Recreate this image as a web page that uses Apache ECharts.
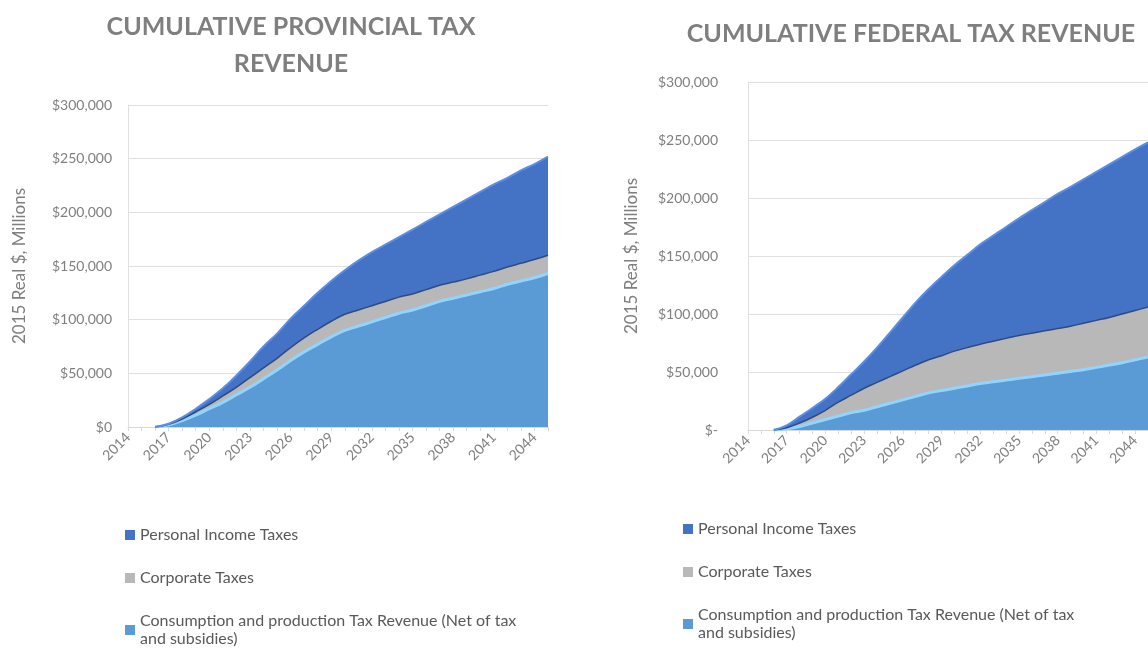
<!DOCTYPE html>
<html>
<head>
<meta charset="utf-8">
<script src="https://cdn.jsdelivr.net/npm/echarts@6/dist/echarts.min.js"></script>
<style>
  html, body { margin: 0; padding: 0; background: #fff; }
  #main { width: 1148px; height: 648px; overflow: hidden; }
</style>
</head>
<body>
<div id="main"></div>
<script>
// years on both x axes
const years = ['2014', '2015', '2016', '2017', '2018', '2019', '2020', '2021',
  '2022', '2023', '2024', '2025', '2026', '2027', '2028', '2029', '2030', '2031',
  '2032', '2033', '2034', '2035', '2036', '2037', '2038', '2039', '2040', '2041',
  '2042', '2043', '2044', '2045'];

// provincial, cumulative, 2015 real $ millions (no data before 2016)
const provConsumption = [null, null, 0, 2000, 6000, 11000, 17000, 23000, 30000, 37000, 45000,
  53000, 62000, 70000, 77000, 84000, 90000, 94000, 98000, 102000, 106000, 109000,
  113000, 117000, 120000, 123000, 126000, 129000, 133000, 136000, 139000, 143000];
const provCorporate = [null, null, 0, 500, 1500, 3000, 4000, 6000, 7000, 9000, 10000, 11000,
  12000, 13000, 14000, 14500, 15000, 15000, 15000, 15000, 15000, 15000, 15000, 15000,
  15000, 15000, 15500, 16000, 16000, 16500, 17000, 17000];
const provPersonal = [null, null, 0, 500, 1500, 3000, 5000, 7000, 11000, 15000, 20000, 23000,
  27000, 30000, 34000, 37500, 41000, 46000, 50000, 53000, 56000, 60000, 63000, 66000,
  70000, 74000, 77500, 81000, 83000, 86500, 89000, 92000];

// federal, cumulative, 2015 real $ millions (no data before 2016)
const fedConsumption = [null, null, 0, 1000, 3000, 6000, 9000, 12000, 15000, 17000, 20000,
  23000, 26000, 29000, 32000, 34000, 36000, 38000, 40000, 41500, 43000, 44500, 46000,
  47500, 49000, 50500, 52000, 54000, 56000, 58000, 60500, 63000];
const fedCorporate = [null, null, 0, 1000, 3000, 5000, 8000, 12000, 15000, 19000, 21000, 23000,
  25000, 27000, 28500, 30000, 32000, 33000, 34000, 35000, 36000, 37000, 37500, 38000,
  38500, 39000, 40000, 40500, 41000, 42000, 42500, 43000];
const fedPersonal = [null, null, 0, 2000, 5500, 8000, 10000, 13000, 18000, 23000, 30000, 38000,
  46000, 54000, 61000, 68000, 74000, 80000, 86000, 91000, 96000, 101000, 106000, 111000,
  116000, 120000, 124000, 128000, 132000, 135500, 139000, 142000];

const yMax = 300000;
const yStep = 50000;

const seriesNames = ['Personal Income Taxes', 'Corporate Taxes',
  'Consumption and production Tax Revenue (Net of tax and subsidies)'];

const FONT = 'Lato, "Open Sans", sans-serif';
const gray = '#7f7f7f';
const lineGray = '#e0e0e0';

const chartDom = document.getElementById('main');
const myChart = echarts.init(chartDom);

function xAxisFor(gridIndex) {
  return {
    type: 'category',
    gridIndex: gridIndex,
    data: years,
    boundaryGap: false,
    axisLine: { lineStyle: { color: '#d9d9d9' } },
    axisTick: { show: true, interval: 0, length: 4, lineStyle: { color: '#d9d9d9' } },
    axisLabel: { interval: 2, rotate: 45, color: gray, fontSize: 14, fontFamily: FONT, margin: 8 }
  };
}

function yAxisFor(gridIndex, zeroLabel, nameGap, labelMargin) {
  return {
    type: 'value',
    gridIndex: gridIndex,
    min: 0,
    max: yMax,
    interval: yStep,
    name: '2015 Real $, Millions',
    nameLocation: 'middle',
    nameGap: nameGap,
    nameTextStyle: { color: gray, fontSize: 17, fontFamily: FONT },
    axisLine: { show: true, lineStyle: { color: lineGray } },
    axisTick: { show: false },
    splitLine: { lineStyle: { color: lineGray } },
    axisLabel: {
      color: gray, fontSize: 14, fontFamily: FONT, margin: labelMargin,
      formatter: v => v === 0 ? zeroLabel : '$' + v.toLocaleString('en-US')
    }
  };
}

function areaSeries(name, stack, idx, data, fill, edge, edgeWidth) {
  return {
    name: name,
    type: 'line',
    stack: stack,
    xAxisIndex: idx,
    yAxisIndex: idx,
    data: data,
    smooth: 0.4,
    showSymbol: false,
    symbol: 'none',
    itemStyle: { color: fill },
    lineStyle: { color: edge, width: edgeWidth },
    areaStyle: { color: fill, opacity: 1 },
    emphasis: { disabled: true }
  };
}

function legendFor(left, top) {
  return {
    orient: 'vertical',
    left: left,
    top: top,
    height: 140,
    padding: 0,
    data: seriesNames,
    icon: 'rect',
    itemWidth: 10,
    itemHeight: 10,
    itemGap: 25,
    textStyle: { color: '#595959', fontSize: 16, fontFamily: FONT, lineHeight: 18 },
    formatter: name => name === seriesNames[2]
      ? 'Consumption and production Tax Revenue (Net of tax\nand subsidies)' : name
  };
}

var option = {
  animation: false,
  backgroundColor: '#ffffff',
  title: [
    {
      text: 'CUMULATIVE PROVINCIAL TAX\nREVENUE',
      left: 286, top: 3, textAlign: 'center',
      textStyle: { color: gray, fontSize: 25, fontWeight: 'bold', fontFamily: FONT, lineHeight: 37 }
    },
    {
      text: 'CUMULATIVE FEDERAL TAX REVENUE',
      left: 906, top: 10, textAlign: 'center',
      textStyle: { color: gray, fontSize: 25, fontWeight: 'bold', fontFamily: FONT, lineHeight: 37 }
    }
  ],
  legend: [legendFor(125, 526), legendFor(683, 520)],
  grid: [
    { left: 128, top: 105, width: 420, height: 322, containLabel: false },
    { left: 748, top: 82, width: 404, height: 348, containLabel: false }
  ],
  xAxis: [xAxisFor(0), xAxisFor(1)],
  yAxis: [yAxisFor(0, '$0', 100, 16), yAxisFor(1, '$-', 108, 30)],
  series: [
    areaSeries(seriesNames[2], 'prov', 0, provConsumption, '#5b9bd5', '#8fd5ff', 3),
    areaSeries(seriesNames[1], 'prov', 0, provCorporate, '#b8b8b8', '#2f4a80', 1.5),
    areaSeries(seriesNames[0], 'prov', 0, provPersonal, '#4472c4', '#5a8ee4', 2),
    areaSeries(seriesNames[2], 'fed', 1, fedConsumption, '#5b9bd5', '#8fd5ff', 3),
    areaSeries(seriesNames[1], 'fed', 1, fedCorporate, '#b8b8b8', '#2f4a80', 1.5),
    areaSeries(seriesNames[0], 'fed', 1, fedPersonal, '#4472c4', '#5a8ee4', 2)
  ]
};

option && myChart.setOption(option);
</script>
</body>
</html>
